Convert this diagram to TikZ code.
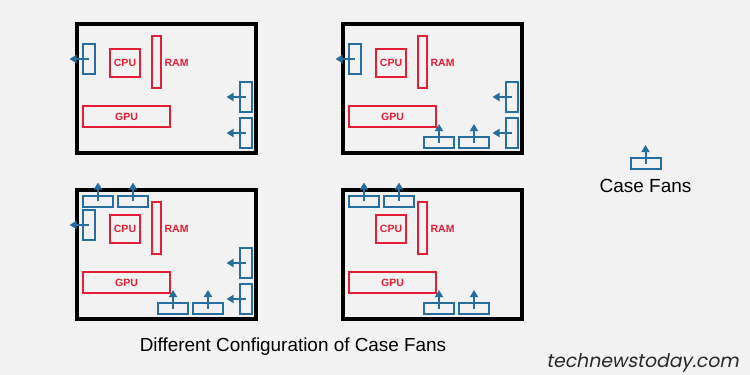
\documentclass[tikz,border=0pt]{standalone}
\usepackage{fontspec}
\setmainfont{Liberation Sans}
\newfontfamily\wmfont[FakeSlant=0.2]{Poppins}
\usetikzlibrary{arrows.meta,positioning}
\definecolor{pagegray}{RGB}{242,242,242}
\definecolor{partred}{RGB}{226,30,52}
\definecolor{fanblue}{RGB}{38,110,160}
\definecolor{wmgray}{RGB}{40,40,40}

\tikzset{
  casebox/.style={draw=black, line width=3.2pt, minimum width=179pt, minimum height=129pt, inner sep=0pt},
  part/.style={draw=partred, line width=2.8pt, text=partred, font=\fontsize{10.5}{11}\selectfont\bfseries, inner sep=0pt},
  partlabel/.style={text=partred, font=\fontsize{10.5}{11}\selectfont\bfseries, inner sep=0pt},
  fanv/.style={draw=fanblue, line width=2pt, minimum width=12pt, minimum height=30pt, inner sep=0pt},
  fanh/.style={draw=fanblue, line width=2pt, minimum width=30pt, minimum height=11pt, inner sep=0pt},
  airflow/.style={draw=fanblue, line width=2pt, -{Triangle[length=7pt,width=8pt]}},
}

% case outline with CPU, RAM and GPU
\newcommand{\caseparts}[1]{%
  \node[casebox] (#1) at (89.5,64.5) {};
  \node[part, minimum width=30pt, minimum height=28pt] (#1cpu) at (48,39) {CPU};
  \node[part, minimum width=9pt, minimum height=52pt] (#1ram) at (79.5,38) {};
  \node[partlabel, right=2pt of #1ram, yshift=-1pt] (#1ramlbl) {RAM};
  \node[part, minimum width=87pt, minimum height=21pt] (#1gpu) at (49.5,92.5) {GPU};
}
% fan positions
\newcommand{\fanleft}[1]{%
  \node[fanv] (#1fl) at (11.5,35) {};
  \draw[airflow] (#1fl.center) -- ([xshift=-12pt]#1fl.west);
}
\newcommand{\fanright}[1]{%
  \node[fanv] (#1fra) at (168.5,73) {};
  \node[fanv] (#1frb) at (168.5,109) {};
  \draw[airflow] (#1fra.center) -- ([xshift=-12pt]#1fra.west);
  \draw[airflow] (#1frb.center) -- ([xshift=-12pt]#1frb.west);
}
\newcommand{\fanbottom}[1]{%
  \node[fanh] (#1fba) at (96,118.5) {};
  \node[fanh] (#1fbb) at (131,118.5) {};
  \draw[airflow] (#1fba.center) -- ([yshift=12pt]#1fba.north);
  \draw[airflow] (#1fbb.center) -- ([yshift=12pt]#1fbb.north);
}
\newcommand{\fantop}[1]{%
  \node[fanh] (#1fta) at (21,11) {};
  \node[fanh] (#1ftb) at (56,11) {};
  \draw[airflow] (#1fta.center) -- ([yshift=12pt]#1fta.north);
  \draw[airflow] (#1ftb.center) -- ([yshift=12pt]#1ftb.north);
}

\begin{document}
\begin{tikzpicture}[x=1pt,y=-1pt]
  \fill[pagegray] (0,0) rectangle (750,375);
  \useasboundingbox (0,0) rectangle (750,375);

  % top left: exhaust only
  \begin{scope}[shift={(77,24)}]
    \caseparts{ca}
    \fanleft{ca}
    \fanright{ca}
  \end{scope}
  % top right
  \begin{scope}[shift={(343,24)}]
    \caseparts{cb}
    \fanleft{cb}
    \fanright{cb}
    \fanbottom{cb}
  \end{scope}
  % bottom left
  \begin{scope}[shift={(77,190)}]
    \caseparts{cc}
    \fantop{cc}
    \fanleft{cc}
    \fanright{cc}
    \fanbottom{cc}
  \end{scope}
  % bottom right
  \begin{scope}[shift={(343,190)}]
    \caseparts{cd}
    \fantop{cd}
    \fanbottom{cd}
  \end{scope}

  % legend
  \node[fanh] (legendfan) at (645.5,163.5) {};
  \draw[airflow] (legendfan.center) -- ([yshift=12pt]legendfan.north);
  \node[font=\fontsize{19}{21}\selectfont, inner sep=0pt] (legendtext) at (645.5,186) {Case Fans};

  \node[font=\fontsize{18.9}{21}\selectfont, inner sep=0pt] (caption) at (293,347) {Different Configuration of Case Fans};
  \node[font=\wmfont\fontsize{18.8}{21}\selectfont, text=wmgray, anchor=east, inner sep=0pt] (watermark) at (739,363) {technewstoday.com};
\end{tikzpicture}
\end{document}
